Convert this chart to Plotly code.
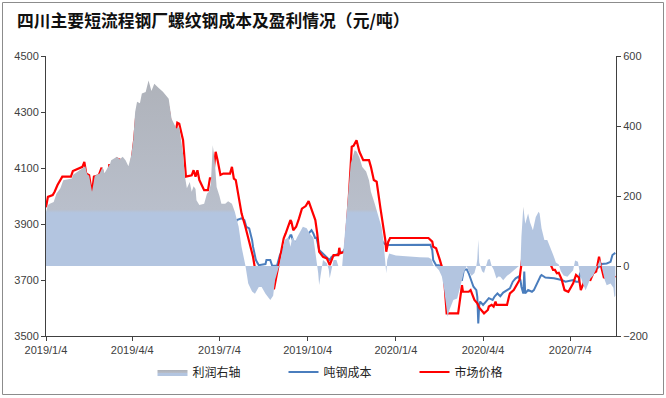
import plotly.graph_objects as go

# ---------------- data ----------------
price_dates = ["2019-01-04","2019-01-06","2019-01-11","2019-01-13","2019-01-16","2019-01-18","2019-01-21","2019-01-30",
"2019-02-01","2019-02-11","2019-02-13","2019-02-15","2019-02-18","2019-02-21","2019-02-23","2019-02-28",
"2019-03-03","2019-03-05","2019-03-10","2019-03-11","2019-03-18","2019-03-19","2019-03-23","2019-03-26","2019-03-30",
"2019-04-02","2019-04-04","2019-04-06","2019-04-08","2019-04-11","2019-04-14","2019-04-18","2019-04-21","2019-04-23","2019-04-26","2019-04-28",
"2019-05-10","2019-05-12","2019-05-15","2019-05-20","2019-05-21","2019-05-23","2019-05-27","2019-05-30",
"2019-06-05","2019-06-07","2019-06-09","2019-06-11","2019-06-13","2019-06-18","2019-06-22","2019-06-24","2019-06-27","2019-06-30",
"2019-07-02","2019-07-05","2019-07-08","2019-07-15","2019-07-17","2019-07-19","2019-07-21","2019-07-24","2019-07-27","2019-07-31",
"2019-08-04","2019-08-08","2019-08-12","2019-08-19","2019-08-21","2019-08-25","2019-08-27","2019-08-30",
"2019-09-01","2019-09-04","2019-09-09","2019-09-11","2019-09-16","2019-09-17","2019-09-19","2019-09-22","2019-09-24","2019-09-25","2019-09-28",
"2019-10-02","2019-10-05","2019-10-08","2019-10-12","2019-10-14","2019-10-16","2019-10-20","2019-10-24","2019-10-27","2019-10-29","2019-10-31",
"2019-11-05","2019-11-06","2019-11-07","2019-11-12","2019-11-16","2019-11-19","2019-11-21","2019-11-24","2019-11-27",
"2019-12-01","2019-12-07","2019-12-09","2019-12-12","2019-12-15","2019-12-19","2019-12-21","2019-12-24","2019-12-25","2019-12-27","2019-12-29",
"2020-02-07","2020-02-11","2020-02-12","2020-02-15","2020-02-18","2020-02-19","2020-02-23","2020-02-24","2020-02-26",
"2020-03-09","2020-03-13","2020-03-14","2020-03-20","2020-03-22","2020-03-26","2020-03-29","2020-03-31",
"2020-04-05","2020-04-09","2020-04-10","2020-04-13","2020-04-15","2020-04-17","2020-04-18","2020-04-29",
"2020-05-01","2020-05-02","2020-05-06","2020-05-09","2020-05-12","2020-05-13","2020-05-15","2020-05-17","2020-05-20","2020-05-22","2020-05-25","2020-05-28","2020-05-30",
"2020-06-02","2020-06-04","2020-06-06","2020-06-08","2020-06-10","2020-06-13","2020-06-16","2020-06-18","2020-06-20","2020-06-22","2020-06-25","2020-06-28",
"2020-07-02","2020-07-05","2020-07-07","2020-07-10","2020-07-13","2020-07-15","2020-07-18","2020-07-20","2020-07-22","2020-07-25","2020-07-28","2020-07-31",
"2020-08-03","2020-08-04","2020-08-08","2020-08-11","2020-08-14","2020-08-16","2020-08-18","2020-08-20"]
price_values = [3960,3997,4003,4015,4039,4051,4069,4069,
4089,4104,4122,4080,4074,4009,4069,4074,
4101,4071,4071,4110,4110,4134,4128,4098,4095,
4085,4140,4200,4280,4265,4306,4312,4360,4321,4335,4342,
4340,4310,4241,4241,4262,4258,4199,4069,
4074,4092,4069,4092,4057,4021,4021,4063,4063,4158,
4128,4075,4080,4080,4104,4062,4057,3997,3938,3890,
3831,3783,3700,3700,3688,3688,3670,3670,
3706,3759,3849,3866,3914,3908,3878,3890,3908,3920,3955,
3964,3982,3955,3914,3866,3801,3783,3777,3753,3770,3789,
3789,3815,3795,3801,3997,4176,4180,4199,4158,
4128,4128,4104,4057,4051,3955,3914,3843,3801,3836,3850,
3850,3837,3819,3813,3783,3771,3724,3664,3581,
3581,3682,3658,3658,3664,3629,3617,3601,
3581,3593,3605,3611,3605,3623,3611,3611,
3640,3652,3664,3682,3700,3730,3783,3831,3801,3765,3795,3807,3825,
3843,3819,3819,3783,3777,3759,3736,3736,3724,3726,3702,3664,
3658,3676,3688,3718,3709,3664,3690,3694,3702,3700,3724,3730,
3783,3765,3709,3706,3724,3706,3715,3709]

cost_dates = ["2019-01-04","2019-01-17","2019-01-19","2019-01-20","2019-01-22","2019-02-10","2019-02-13","2019-02-18","2019-02-20","2019-02-22","2019-02-25",
"2019-03-01","2019-03-03","2019-03-05","2019-03-07","2019-03-12","2019-03-15","2019-03-24","2019-03-26","2019-03-29",
"2019-04-01","2019-04-05","2019-04-09","2019-04-14","2019-04-16","2019-04-19","2019-04-23","2019-04-28","2019-04-30",
"2019-05-04","2019-05-07","2019-05-12","2019-05-15","2019-05-20","2019-05-22","2019-05-25","2019-05-27","2019-05-30",
"2019-06-03","2019-06-05","2019-06-07","2019-06-10","2019-06-14","2019-06-19","2019-06-22","2019-06-27","2019-06-29","2019-06-30",
"2019-07-02","2019-07-05","2019-07-07","2019-07-10","2019-07-17","2019-07-19","2019-07-20","2019-07-22","2019-07-27","2019-07-30",
"2019-08-01","2019-08-04","2019-08-07","2019-08-08","2019-08-11","2019-08-14","2019-08-21","2019-08-22","2019-08-26","2019-08-28",
"2019-09-02","2019-09-05","2019-09-09","2019-09-12","2019-09-16","2019-09-17","2019-09-19","2019-09-23","2019-09-26","2019-09-29",
"2019-10-02","2019-10-05","2019-10-08","2019-10-10","2019-10-12","2019-10-13","2019-10-16","2019-10-20","2019-10-24","2019-10-27","2019-10-29",
"2019-11-02","2019-11-05","2019-11-10","2019-11-13","2019-11-17","2019-11-19","2019-11-23","2019-11-27",
"2019-12-01","2019-12-04","2019-12-08","2019-12-09","2019-12-11","2019-12-15","2019-12-19","2019-12-22","2019-12-25",
"2020-02-09","2020-02-11","2020-02-12","2020-02-15","2020-02-18","2020-02-20","2020-02-23","2020-02-26",
"2020-03-01","2020-03-04","2020-03-08","2020-03-13","2020-03-15","2020-03-18","2020-03-20","2020-03-22","2020-03-25","2020-03-28","2020-03-29","2020-03-30","2020-03-31",
"2020-04-01","2020-04-04","2020-04-07","2020-04-10","2020-04-14","2020-04-16","2020-04-19","2020-04-22","2020-04-25","2020-04-29",
"2020-05-02","2020-05-05","2020-05-08","2020-05-11","2020-05-13","2020-05-14","2020-05-16","2020-05-17","2020-05-18","2020-05-21","2020-05-25","2020-05-27","2020-05-30",
"2020-06-03","2020-06-04","2020-06-08","2020-06-17","2020-06-25","2020-06-29",
"2020-07-07","2020-07-10","2020-07-13","2020-07-14","2020-07-16","2020-07-27","2020-07-30",
"2020-08-03","2020-08-06","2020-08-11","2020-08-15","2020-08-17","2020-08-20"]
cost_values = [3822,3822,3840,3830,3807,3807,3822,3822,3801,3793,3801,
3801,3807,3797,3807,3807,3815,3813,3797,3775,
3771,3780,3810,3819,3813,3825,3833,3831,3838,
3854,3866,3868,3837,3837,3884,3899,3890,3866,
3843,3843,3849,3860,3857,3852,3855,3857,3848,3807,
3843,3862,3896,3904,3904,3890,3896,3914,3920,3914,
3890,3884,3843,3819,3771,3753,3757,3771,3771,3751,
3751,3789,3813,3831,3860,3860,3837,3837,3854,3852,
3860,3866,3878,3866,3848,3854,3807,3795,3781,3771,3783,
3789,3795,3801,3819,3825,3866,3872,3866,
3869,3866,3875,3884,3872,3866,3849,3833,3825,
3826,3807,3771,3753,3753,3750,3741,3724,
3712,3702,3700,3700,3736,3738,3724,3702,3676,3664,3640,3545,3610,
3623,3611,3623,3635,3629,3641,3652,3642,3655,3664,
3670,3694,3706,3712,3700,3676,3652,3730,3652,3664,3658,3664,3688,
3714,3718,3709,3706,3700,3694,
3700,3694,3694,3721,3736,3738,3736,
3747,3757,3759,3765,3789,3797]

profit_dates = ["2019-01-04","2019-01-06","2019-01-08","2019-01-12","2019-01-15","2019-01-19","2019-01-22","2019-01-31",
"2019-02-01","2019-02-08","2019-02-14","2019-02-16","2019-02-18","2019-02-21","2019-02-24",
"2019-03-01","2019-03-04","2019-03-06","2019-03-12","2019-03-13","2019-03-19","2019-03-22","2019-03-25","2019-03-28","2019-03-31",
"2019-04-03","2019-04-05","2019-04-07","2019-04-09","2019-04-12","2019-04-14","2019-04-18","2019-04-21","2019-04-24","2019-04-27",
"2019-05-01","2019-05-06","2019-05-12","2019-05-15","2019-05-20","2019-05-23","2019-05-27","2019-05-29","2019-05-31",
"2019-06-03","2019-06-05","2019-06-07","2019-06-09","2019-06-10","2019-06-13","2019-06-18","2019-06-21","2019-06-23","2019-06-25","2019-06-27","2019-06-29",
"2019-07-01","2019-07-04","2019-07-06","2019-07-10","2019-07-13","2019-07-17","2019-07-20","2019-07-24","2019-07-27","2019-07-31",
"2019-08-03","2019-08-07","2019-08-10","2019-08-14","2019-08-17","2019-08-21","2019-08-24","2019-08-26","2019-08-29","2019-08-31",
"2019-09-04","2019-09-07","2019-09-10","2019-09-14","2019-09-16","2019-09-18","2019-09-21","2019-09-23","2019-09-26","2019-09-29",
"2019-10-03","2019-10-06","2019-10-10","2019-10-13","2019-10-15","2019-10-16","2019-10-18","2019-10-20","2019-10-24","2019-10-26","2019-10-27","2019-10-29","2019-10-31",
"2019-11-03","2019-11-05","2019-11-09","2019-11-10","2019-11-15","2019-11-18","2019-11-22","2019-11-24","2019-11-27","2019-11-30",
"2019-12-04","2019-12-07","2019-12-09","2019-12-13","2019-12-16","2019-12-20","2019-12-22","2019-12-24","2019-12-25","2019-12-26","2019-12-28",
"2020-01-04","2020-01-19","2020-01-29","2020-02-07","2020-02-10","2020-02-12","2020-02-14","2020-02-18","2020-02-21","2020-02-23","2020-02-25","2020-02-27","2020-02-29",
"2020-03-04","2020-03-08","2020-03-11","2020-03-13","2020-03-15","2020-03-16","2020-03-18","2020-03-20","2020-03-23","2020-03-26","2020-03-28","2020-03-29","2020-03-30","2020-03-31",
"2020-04-01","2020-04-03","2020-04-05","2020-04-07","2020-04-09","2020-04-11","2020-04-13","2020-04-15","2020-04-18","2020-04-20","2020-04-22","2020-04-25","2020-04-29",
"2020-05-02","2020-05-06","2020-05-08","2020-05-11","2020-05-13","2020-05-14","2020-05-16","2020-05-17","2020-05-18","2020-05-21","2020-05-23","2020-05-26","2020-05-29",
"2020-06-01","2020-06-02","2020-06-04","2020-06-07","2020-06-10","2020-06-13","2020-06-17","2020-06-19","2020-06-22","2020-06-24","2020-06-27",
"2020-07-01","2020-07-04","2020-07-07","2020-07-09","2020-07-12","2020-07-14","2020-07-17","2020-07-20","2020-07-22","2020-07-25","2020-07-28","2020-07-31",
"2020-08-03","2020-08-04","2020-08-06","2020-08-09","2020-08-11","2020-08-15","2020-08-18","2020-08-19","2020-08-20"]
profit_values = [155,174,178,183,207,222,245,250,
260,274,285,262,258,212,258,
264,283,265,293,302,312,305,312,302,285,
317,359,440,469,465,493,497,530,500,521,
510,498,478,421,393,397,321,255,222,
240,212,228,220,188,174,178,207,212,236,345,302,
226,200,178,178,185,178,155,112,55,2,
-50,-73,-79,-60,-60,-79,-88,-97,-85,-40,
-2,36,74,82,55,82,70,82,98,112,
108,93,81,26,-21,-54,-10,17,8,-10,-35,-10,17,
17,0,0,36,198,293,331,327,310,283,
270,245,212,178,150,112,74,17,-21,17,36,
30,26,25,24,20,2,0,-12,-30,-59,-106,-145,-125,
-97,-93,-64,-40,-17,-12,0,-15,-28,-20,0,20,75,10,
0,-15,-20,0,18,20,0,-10,-36,-30,-31,-41,-28,
-22,-12,-8,-1,0,83,169,132,121,150,125,102,140,
155,150,108,74,74,55,26,10,4,-14,-27,
-31,-22,-12,16,12,-22,-50,-69,-55,-36,-27,-10,
11,20,-4,-41,-55,-50,-62,-89,-85]

x_tick_dates = ["2019-01-04","2019-04-04","2019-07-04","2019-10-04","2020-01-04","2020-04-04","2020-07-04"]
x_tick_labels = ["2019/1/4","2019/4/4","2019/7/4","2019/10/4","2020/1/4","2020/4/4","2020/7/4"]

title_text = "四川主要短流程钢厂螺纹钢成本及盈利情况（元/吨）"
name_profit = "利润右轴"
name_cost = "吨钢成本"
name_price = "市场价格"

# ---------------- figure ----------------
FONT = "Liberation Sans, Noto Sans CJK SC, sans-serif"
AX = "#404040"

fig = go.Figure()

fig.add_trace(go.Scatter(
    x=profit_dates, y=profit_values, name=name_profit, yaxis="y2",
    mode="lines", line=dict(width=0, color="#b4c4dc"),
    fill="tozeroy", fillcolor="#b4c4dc",
    fillgradient=dict(type="vertical", start=-200, stop=600,
                      colorscale=[[0, "#b3c5e0"], [0.44, "#b3c5e0"],
                                  [0.452, "#b9bfcb"], [1, "#adb0b7"]]),
    hoverinfo="skip",
))
fig.add_trace(go.Scatter(
    x=cost_dates, y=cost_values, name=name_cost, mode="lines",
    line=dict(color="#4a7dbd", width=2),
))
fig.add_trace(go.Scatter(
    x=price_dates, y=price_values, name=name_price, mode="lines",
    line=dict(color="#ff0000", width=2.2),
))

# plot area: x 46 -> 616, y 56 -> 336
w_plot = 570.0
h_plot = 280.0

fig.update_layout(
    width=666, height=398,
    margin=dict(l=46, r=50, t=56, b=62, pad=0, autoexpand=False),
    paper_bgcolor="white", plot_bgcolor="white",
    font=dict(family=FONT, size=11, color=AX),
    title=dict(text=title_text, x=17/666, xref="container", xanchor="left",
               y=1-21/398, yref="container", yanchor="middle",
               font=dict(family="Noto Sans CJK SC, sans-serif", size=16.8, color="#111111", weight="bold")),
    showlegend=True,
    legend=dict(orientation="h", x=(152.5-46)/w_plot, xanchor="left", y=(336-372)/h_plot, yanchor="middle",
                font=dict(family="Noto Sans CJK SC, sans-serif", size=12, color="#222222"),
                entrywidth=86, entrywidthmode="pixels", bgcolor="rgba(0,0,0,0)",
                borderwidth=0, itemwidth=30),
    xaxis=dict(type="date", range=["2019-01-04", "2020-08-20 16:48"],
               tickmode="array", tickvals=x_tick_dates, ticktext=x_tick_labels,
               showgrid=False, zeroline=False, showline=True, linecolor=AX, linewidth=1,
               ticks="outside", ticklen=4, tickcolor=AX, tickfont=dict(size=11, color=AX)),
    yaxis=dict(range=[3500, 4500], dtick=200, tick0=3500, showgrid=False, zeroline=False,
               showline=True, linecolor=AX, linewidth=1, ticks="outside", ticklen=4,
               tickcolor=AX, tickfont=dict(size=11, color=AX)),
    yaxis2=dict(range=[-200, 600], dtick=200, tick0=-200, overlaying="y", side="right",
                showgrid=False, zeroline=False, showline=True, linecolor=AX, linewidth=1,
                ticks="outside", ticklen=4, tickcolor=AX, tickfont=dict(size=11, color=AX)),
    hovermode=False,
)

# outer frame of the chart
fig.add_shape(type="rect", xref="paper", yref="paper",
              x0=(2.5-46)/w_plot, x1=(663.5-46)/w_plot,
              y0=(336-394.5)/h_plot, y1=(336-2.5)/h_plot,
              line=dict(color="#8c8c8c", width=1), fillcolor="rgba(0,0,0,0)", layer="above")

fig.write_html("out.html", config={"displayModeBar": False},
               post_script="document.body.style.margin='0';document.body.style.overflow='hidden';")
